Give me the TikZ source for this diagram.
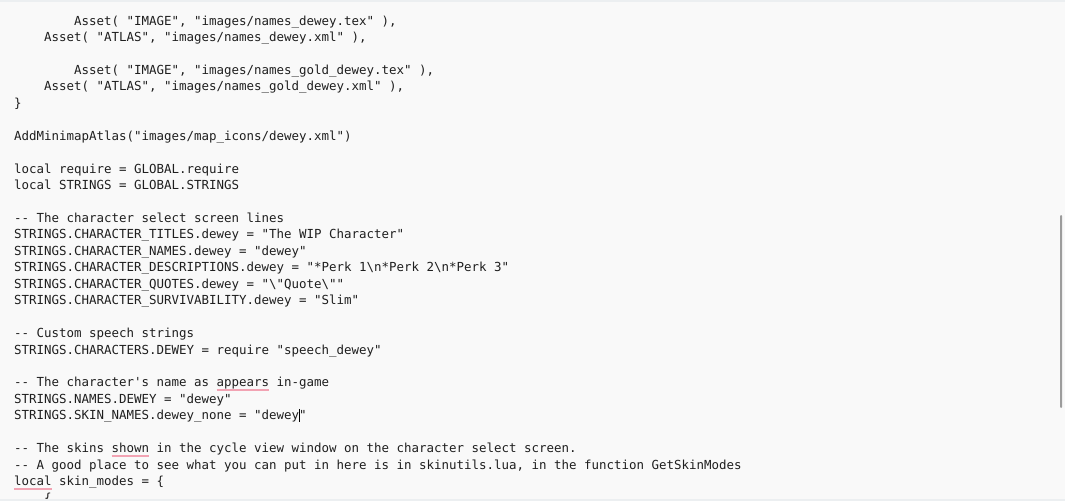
\documentclass[tikz,border=0pt]{standalone}
\usepackage{fontspec}
\setmonofont{DejaVu Sans Mono}
\definecolor{bg}{HTML}{F9F9F9}
\definecolor{band}{HTML}{ECEFF1}
\definecolor{codetext}{HTML}{1F1F1F}
\definecolor{spell}{HTML}{F2A3B3}
\definecolor{scroll}{HTML}{9C9C9C}
\tikzset{
  codeline/.style={anchor=base west, inner sep=0pt, outer sep=0pt, text=codetext,
    font=\ttfamily\fontsize{12.46}{16}\selectfont},
  spellline/.style={draw=spell, line width=2pt},
}
\newcommand{\bl}[1]{\fpeval{25+(#1-1)*16.45}}
\newcommand{\cx}[1]{\fpeval{14+#1*7.5}}
\begin{document}
\begin{tikzpicture}[x=1pt,y=-1pt]
\useasboundingbox (0,0) rectangle (1065,501);
\fill[bg] (0,0) rectangle (1065,501);
\begin{scope}
\clip (0,0) rectangle (1065,499);
\node[codeline] (l1)  at (\cx{8},\bl{1})  {Asset( "IMAGE", "images/names\_dewey.tex" ),};
\node[codeline] (l2)  at (\cx{4},\bl{2})  {Asset( "ATLAS", "images/names\_dewey.xml" ),};
\node[codeline] (l4)  at (\cx{8},\bl{4})  {Asset( "IMAGE", "images/names\_gold\_dewey.tex" ),};
\node[codeline] (l5)  at (\cx{4},\bl{5})  {Asset( "ATLAS", "images/names\_gold\_dewey.xml" ),};
\node[codeline] (l6)  at (\cx{0},\bl{6})  {\}};
\node[codeline] (l8)  at (\cx{0},\bl{8})  {AddMinimapAtlas("images/map\_icons/dewey.xml")};
\node[codeline] (l10) at (\cx{0},\bl{10}) {local require = GLOBAL.require};
\node[codeline] (l11) at (\cx{0},\bl{11}) {local STRINGS = GLOBAL.STRINGS};
\node[codeline] (l13) at (\cx{0},\bl{13}) {-{}- The character select screen lines};
\node[codeline] (l14) at (\cx{0},\bl{14}) {STRINGS.CHARACTER\_TITLES.dewey = "The WIP Character"};
\node[codeline] (l15) at (\cx{0},\bl{15}) {STRINGS.CHARACTER\_NAMES.dewey = "dewey"};
\node[codeline] (l16) at (\cx{0},\bl{16}) {STRINGS.CHARACTER\_DESCRIPTIONS.dewey = "*Perk 1\textbackslash n*Perk 2\textbackslash n*Perk 3"};
\node[codeline] (l17) at (\cx{0},\bl{17}) {STRINGS.CHARACTER\_QUOTES.dewey = "\textbackslash"Quote\textbackslash""};
\node[codeline] (l18) at (\cx{0},\bl{18}) {STRINGS.CHARACTER\_SURVIVABILITY.dewey = "Slim"};
\node[codeline] (l20) at (\cx{0},\bl{20}) {-{}- Custom speech strings};
\node[codeline] (l21) at (\cx{0},\bl{21}) {STRINGS.CHARACTERS.DEWEY = require "speech\_dewey"};
\node[codeline] (l23) at (\cx{0},\bl{23}) {-{}- The character's name as appears in-game};
\node[codeline] (l24) at (\cx{0},\bl{24}) {STRINGS.NAMES.DEWEY = "dewey"};
\node[codeline] (l25) at (\cx{0},\bl{25}) {STRINGS.SKIN\_NAMES.dewey\_none = "dewey"};
\node[codeline] (l27) at (\cx{0},\bl{27}) {-{}- The skins shown in the cycle view window on the character select screen.};
\node[codeline] (l28) at (\cx{0},\bl{28}) {-{}- A good place to see what you can put in here is in skinutils.lua, in the function GetSkinModes};
\node[codeline] (l29) at (\cx{0},\bl{29}) {local skin\_modes = \{};
\node[codeline] (l30) at (\cx{4},\bl{30}) {\{};
% spell-check underlines
\draw[spellline] (\cx{27},\bl{23}+3.5) -- (\cx{34},\bl{23}+3.5);
\draw[spellline] (\cx{13},\bl{27}+3.5) -- (\cx{18},\bl{27}+3.5);
\draw[spellline] (\cx{0},\bl{29}+3.5) -- (\cx{5},\bl{29}+3.5);
% text cursor
\draw[black, line width=1pt] (\cx{38},\bl{25}-11) -- (\cx{38},\bl{25}+2.5);
\end{scope}
% bands
\fill[band] (0,0) rectangle (1065,2);
\fill[band] (0,499) rectangle (1065,501);
% scrollbar
\fill[scroll, rounded corners=1pt] (1060,215) rectangle (1062.2,408);
\end{tikzpicture}
\end{document}
